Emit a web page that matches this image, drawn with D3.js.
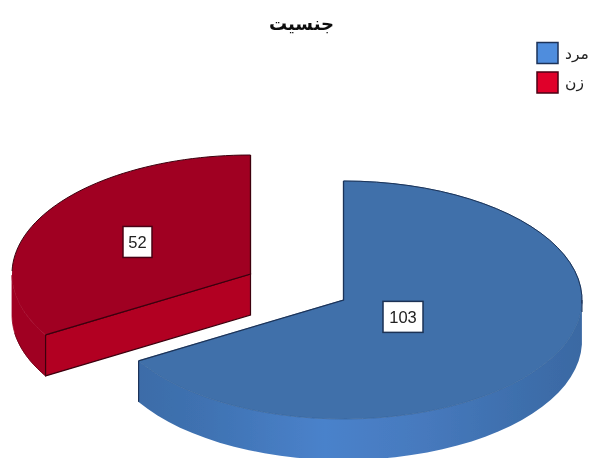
<!DOCTYPE html>
<html><head><meta charset="utf-8">
<script src="https://cdn.jsdelivr.net/npm/d3@7"></script>
<style>html,body{margin:0;padding:0;background:#fff}svg{display:block}</style>
</head><body><div id="c"></div>
<script>
const categories = ["مرد", "زن"];
const values = [103, 52];
const title = "جنسیت";

const W = 592, H = 458, rx = 238.5, ry = 119, depth = 41;
const centres = [[343.5, 300], [250.5, 274]];
const labelFrac = [0.287, 0.545];
const topFill = ["#3f70aa", "#a00022"];
const edge = ["#1c3358", "#3c0010"];
const swatch = ["#4f8ddd", "#e0002c"];
const swatchEdge = ["#1c3358", "#4a0414"];

const svg = d3.select("#c").append("svg").attr("width", W).attr("height", H)
  .style("font-family", "'Liberation Sans',Arial,sans-serif");
const defs = svg.append("defs");
const g = defs.append("linearGradient").attr("id", "blueWall");
[[0, "#3c6ca8"], [0.15, "#3f72b2"], [0.42, "#4a82cb"], [0.65, "#4679bd"], [0.85, "#3e6fad"], [1, "#3a69a3"]]
  .forEach(([o, c]) => g.append("stop").attr("offset", o).attr("stop-color", c));
defs.append("filter").attr("id", "soft").append("feGaussianBlur").attr("stdDeviation", 0.45);

const arcs = d3.pie().sort(null)(values);
const sx = d3.scaleLinear().domain([-1, 1]).range([-rx, rx]);
const sy = d3.scaleLinear().domain([-1, 1]).range([-ry, ry]);
const px = (a, i) => centres[i][0] + sx(Math.sin(a));
const py = (a, i) => centres[i][1] - sy(Math.cos(a));
const line = d3.line();
const samples = (a0, a1) => d3.range(0, 61).map(k => a0 + (a1 - a0) * k / 60);

const root = svg.append("g").attr("filter", "url(#soft)");
[1, 0].forEach(i => {
  const d = arcs[i], s = root.append("g");
  const a = samples(d.startAngle, d.endAngle);
  const [c0, c1] = centres[i];
  const wA = a.filter(t => Math.cos(t) <= 0.02);
  const wallPts = wA.map(t => [px(t, i), py(t, i)])
    .concat(wA.slice().reverse().map(t => [px(t, i), py(t, i) + depth]));
  s.append("path").attr("d", line(wallPts) + "Z")
    .attr("fill", i === 0 ? "url(#blueWall)" : "#a00022")
    .attr("stroke", i === 0 ? "none" : "#a00022").attr("stroke-width", 0.8);
  if (i === 1) {
    const st = d.startAngle;
    s.append("path").attr("d", line([[c0, c1], [px(st, i), py(st, i)], [px(st, i), py(st, i) + depth], [c0, c1 + depth]]) + "Z")
      .attr("fill", "#b20024").attr("stroke", edge[1]).attr("stroke-width", 1.2);
    s.append("path").attr("d", line(wA.slice(0, 12).map(t => [px(t, i), py(t, i) + depth])))
      .attr("fill", "none").attr("stroke", "#6a0016").attr("stroke-width", 0.8);
  }
  const topPts = [[c0, c1]].concat(a.map(t => [px(t, i), py(t, i)]));
  s.append("path").attr("d", line(topPts) + "Z").attr("fill", topFill[i])
    .attr("stroke", i === 0 ? "#37659c" : "none").attr("stroke-width", 0.8);
  s.append("path").attr("d", line([[px(d.startAngle, i), py(d.startAngle, i)], [c0, c1], [px(d.endAngle, i), py(d.endAngle, i)]]))
    .attr("fill", "none").attr("stroke", edge[i]).attr("stroke-width", 1.3);
  const back = a.filter(t => i === 0 ? t < Math.PI * 0.52 : t > Math.PI * 1.5);
  s.append("path").attr("d", line(back.map(t => [px(t, i), py(t, i)])))
    .attr("fill", "none").attr("stroke", edge[i]).attr("stroke-width", 1);
  if (i === 0) {
    const e = d.endAngle;
    s.append("path").attr("d", line([[px(e, i), py(e, i)], [px(e, i), py(e, i) + depth]]))
      .attr("stroke", edge[0]).attr("stroke-width", 1.2);
    s.append("path").attr("d", line([[px(Math.PI / 2, i), py(Math.PI / 2, i)], [px(Math.PI / 2, i), py(Math.PI / 2, i) + 12]]))
      .attr("stroke", edge[0]).attr("stroke-width", 1);
  }
  const mid = (d.startAngle + d.endAngle) / 2, f = labelFrac[i];
  const lx = c0 + sx(Math.sin(mid)) * f, ly = c1 - sy(Math.cos(mid)) * f;
  const bw = String(d.value).length === 3 ? 40 : 29, bh = 31;
  root.append("rect").attr("x", lx - bw / 2).attr("y", ly - bh / 2).attr("width", bw).attr("height", bh)
    .attr("fill", "#fff").attr("stroke", i === 0 ? "#1a3054" : "#4a0414").attr("stroke-width", 1.5);
  root.append("text").attr("x", lx).attr("y", ly + 6).attr("text-anchor", "middle")
    .attr("font-size", 16.5).attr("fill", "#222").text(d.value);
});

root.append("text").attr("x", 301.5).attr("y", 30).attr("text-anchor", "middle")
  .attr("font-size", 18).attr("font-weight", "bold").attr("fill", "#111")
  .attr("font-family", "'DejaVu Sans',sans-serif").text(title);

const legendY = d3.scalePoint().domain(categories).range([42.5, 72]);
categories.forEach((c, i) => {
  root.append("rect").attr("x", 537).attr("y", legendY(c)).attr("width", 21).attr("height", 21)
    .attr("fill", swatch[i]).attr("stroke", swatchEdge[i]).attr("stroke-width", 1.5);
  root.append("text").attr("x", 565).attr("y", legendY(c) + 16).attr("font-size", 15.5).attr("fill", "#222")
    .attr("font-family", "'DejaVu Sans',sans-serif").text(c);
});
</script></body></html>
